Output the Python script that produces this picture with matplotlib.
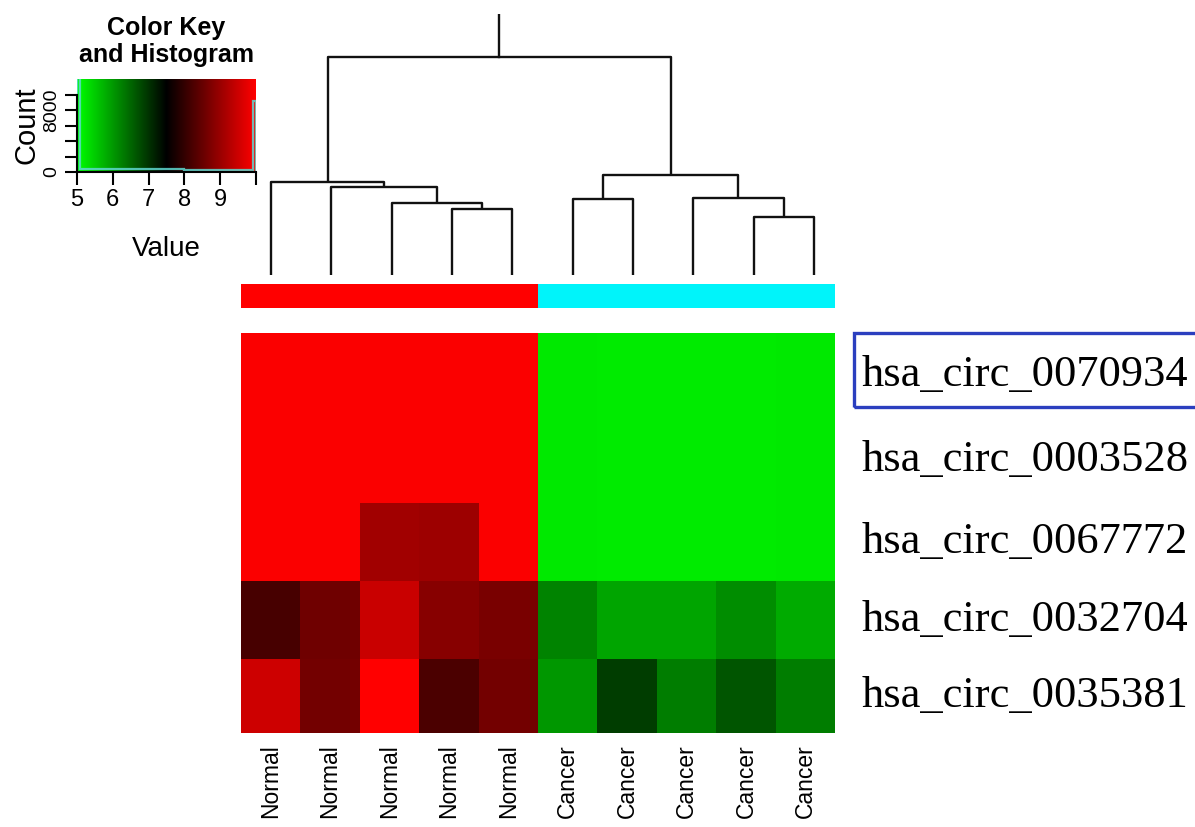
import numpy as np
import matplotlib
matplotlib.use('Agg')
import matplotlib.pyplot as plt
from matplotlib.colors import LinearSegmentedColormap
from matplotlib.patches import Rectangle

# data
genes = ['hsa_circ_0070934', 'hsa_circ_0003528', 'hsa_circ_0067772',
         'hsa_circ_0032704', 'hsa_circ_0035381']
samples = ['Normal'] * 5 + ['Cancer'] * 5
side_colors = ['#ff0000'] * 5 + ['#00f4fa'] * 5

normal_vals = [[9.95, 9.95, 9.95, 9.95, 9.95],
               [9.95, 9.95, 9.95, 9.95, 9.95],
               [9.95, 9.95, 9.07, 9.03, 9.95],
               [8.19, 8.58, 9.46, 8.82, 8.68],
               [9.51, 8.63, 10.0, 8.24, 8.63]]
cancer_vals = [[5.22, 5.20, 5.20, 5.20, 5.22],
               [5.22, 5.20, 5.20, 5.20, 5.22],
               [5.22, 5.20, 5.20, 5.20, 5.22],
               [6.23, 5.88, 5.88, 6.13, 5.83],
               [6.03, 6.91, 6.27, 6.67, 6.27]]

# column dendrogram: (left node, right node, height); leaves 0-9, new nodes from 10
merges = [(3, 4, 66), (2, 10, 72), (1, 11, 88), (0, 12, 93),
          (5, 6, 76), (8, 9, 58), (7, 15, 77), (14, 16, 100),
          (13, 17, 218)]

# color key histogram
hist_edges = [5.0, 5.08, 6.0, 7.0, 8.0, 9.0, 9.92, 10.0]
hist_counts = [14500, 420, 380, 350, 320, 280, 9200]

vals = np.hstack([np.array(normal_vals), np.array(cancer_vals)])
cmap = LinearSegmentedColormap.from_list('gbr', ['#00ff00', '#000000', '#ff0000'])

W, H = 1195, 827
fig = plt.figure(figsize=(W / 100, H / 100), dpi=100)
sans = ['Liberation Sans', 'DejaVu Sans']
serif = ['Liberation Serif', 'DejaVu Serif']

def px_axes(x0, y0, x1, y1):
    return fig.add_axes([x0 / W, 1 - y1 / H, (x1 - x0) / W, (y1 - y0) / H])

# heatmap (rows in the picture are slightly uneven in height)
row_h = np.array([85, 85, 79, 78, 74], dtype=float)
row_edges = np.concatenate([[0], np.cumsum(row_h)]) / row_h.mean()
ax = px_axes(241, 333, 835, 733)
ax.pcolormesh(np.arange(11), row_edges, vals, cmap=cmap, vmin=5, vmax=10)
ax.set_xlim(0, 10)
ax.set_ylim(row_edges[-1], 0)
ax.axis('off')
for i, g in enumerate(genes):
    yc = (row_edges[i] + row_edges[i + 1]) / 2
    ax.text(10.45, yc, g, fontsize=32, family=serif, va='center', ha='left')
for j, s in enumerate(samples):
    ax.text(j + 0.5, row_edges[-1] + 0.14, s, fontsize=16.5, family=sans,
            rotation=90, va='top', ha='center')

# highlight box around first gene
fig.patches.append(Rectangle((854 / W, 1 - 407 / H), 360 / W, 74 / H,
                             transform=fig.transFigure, fill=False,
                             edgecolor='#2b3fbf', lw=2.4))

# side color bar
axc = px_axes(241, 284, 835, 308)
axc.bar(np.arange(10) + 0.5, 1, width=1.0, color=side_colors, edgecolor='none')
axc.set_xlim(0, 10)
axc.set_ylim(0, 1)
axc.axis('off')

# dendrogram
axd = px_axes(241, 14, 844, 275)
pos = {i: i + 0.5 for i in range(10)}
hgt = {i: 0 for i in range(10)}
for k, (a, b, h) in enumerate(merges):
    n = 10 + k
    xa, xb = pos[a], pos[b]
    axd.plot([xa, xa, xb, xb], [hgt[a], h, h, hgt[b]], color='#111111', lw=1.7,
             solid_capstyle='butt')
    pos[n] = (xa + xb) / 2
    hgt[n] = h
root = 10 + len(merges) - 1
top = hgt[root] * 1.2
axd.plot([pos[root], pos[root]], [hgt[root], top], color='#111111', lw=1.7)
axd.set_xlim(0, 10)
axd.set_ylim(0, top)
axd.axis('off')

# color key and histogram
axk = px_axes(77, 79, 256, 172)
grad = np.linspace(5, 10, 256).reshape(1, -1)
axk.imshow(grad, cmap=cmap, vmin=5, vmax=10, aspect='auto',
           extent=[5, 10, 0, 12000], origin='lower')
axk.stairs(hist_counts, hist_edges, baseline=0, color='#5fd8d0', lw=1.6,
           alpha=0.85)
axk.set_xlim(5, 10)
axk.set_ylim(0, 12000)
axk.set_xticks([5, 6, 7, 8, 9, 10])
axk.set_xticklabels(['5', '6', '7', '8', '9', ''], fontsize=17, family=sans)
axk.set_yticks([0, 2000, 4000, 6000, 8000, 10000])
axk.set_yticklabels(['0', '', '', '', '8000', ''], fontsize=14, family=sans,
                    rotation=90, va='center')
axk.tick_params(length=9, width=1.5, pad=3)
for side in ['top', 'right']:
    axk.spines[side].set_visible(False)
axk.spines['left'].set_bounds(0, 10000)
axk.spines['left'].set_linewidth(1.5)
axk.spines['bottom'].set_linewidth(1.5)
axk.set_xlabel('Value', fontsize=20, family=sans, labelpad=18)
axk.set_ylabel('Count', fontsize=21, family=sans, labelpad=2)
axk.set_title('Color Key\nand Histogram', fontsize=18, fontweight='bold',
              family=sans, pad=12, linespacing=1.15)

fig.savefig('out.png', dpi=100)
